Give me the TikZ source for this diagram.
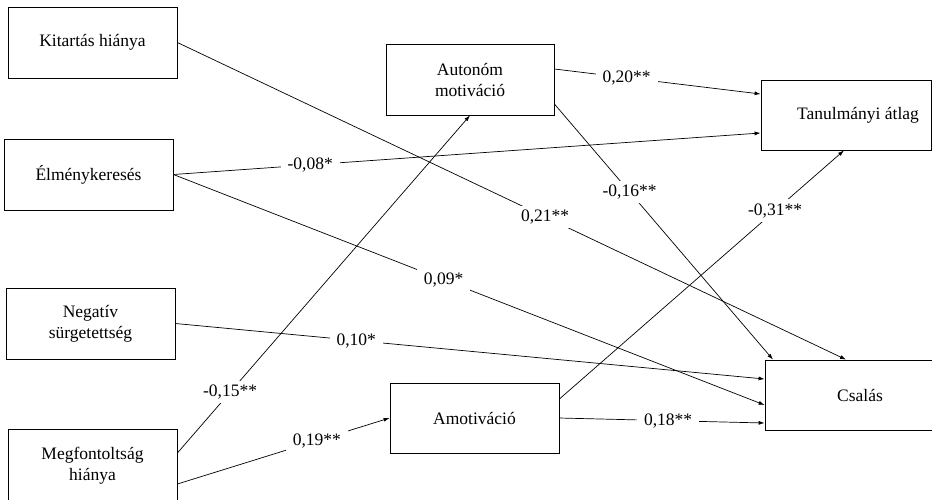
\documentclass[tikz,border=0pt]{standalone}
\usepackage{fontspec}
\setmainfont{Liberation Serif}
\newfontfamily\timesrm{Liberation Serif}
\usetikzlibrary{arrows.meta}
\begin{document}
\begin{tikzpicture}[x=1pt,y=-1pt,
  box/.style={draw, line width=0.8pt, minimum width=169pt, minimum height=71pt, align=center, inner sep=2pt, font=\timesrm\fontsize{17.5}{21}\selectfont},
  conn/.style={line width=0.7pt, -{Latex[length=6pt,width=4pt]}},
  lbl/.style={fill=white, inner xsep=7pt, inner ysep=4pt, font=\timesrm\fontsize{17.5}{21}\selectfont}]
\useasboundingbox (0,0) rectangle (932,499);
\clip (0,0) rectangle (932,499);
\node[box] (kit) at (92.5,42.5) {Kitartás hiánya};
\node[box] (elm) at (88.5,174.5) {Élménykeresés};
\node[box] (neg) at (90.5,323.5) {Negatív\\sürgetettség};
\node[box, minimum height=74pt] (meg) at (92.5,466) {Megfontoltság\\hiánya};
\node[box, minimum width=168pt] (aut) at (470,79.5) {Autonóm\\motiváció};
\node[box, minimum height=70pt] (amo) at (474.5,418) {Amotiváció};
\node[box, minimum width=170pt, minimum height=70pt] (tan) at (846,115) {\hspace*{24pt}Tanulmányi átlag};
\node[box, minimum width=190pt, minimum height=70pt] (csa) at (860,395) {Csalás};

\draw[conn] (kit.east) -- node[lbl, pos=0.55] {0,21**} ([xshift=-14pt]csa.north);
\draw[conn] (elm.east) -- node[lbl, pos=0.233] {-0,08*} ([yshift=-18pt]tan.west);
\draw[conn] (elm.east) -- node[lbl, pos=0.457] {0,09*} ([yshift=-10pt]csa.west);
\draw[conn] (neg.east) -- node[lbl, pos=0.307] {0,10*} ([yshift=16pt]csa.west);
\draw[conn] ([yshift=13pt]meg.east) -- node[lbl, pos=0.18] {-0,15**} (aut.south);
\draw[conn] ([yshift=-18pt]meg.east) -- node[lbl, pos=0.657] {0,19**} (amo.west);
\draw[conn] ([yshift=10.5pt]aut.east) -- node[lbl, pos=0.35] {0,20**} ([yshift=21pt]tan.west);
\draw[conn] ([yshift=-24.5pt]aut.east) -- node[lbl, pos=0.344] {-0,16**} ([xshift=-87pt]csa.north);
\draw[conn] ([yshift=19pt]amo.east) -- node[lbl, pos=0.758] {-0,31**} ([xshift=-2pt]tan.south);
\draw[conn] (amo.east) -- node[lbl, pos=0.53] {0,18**} ([yshift=-28pt]csa.west);
\end{tikzpicture}
\end{document}
